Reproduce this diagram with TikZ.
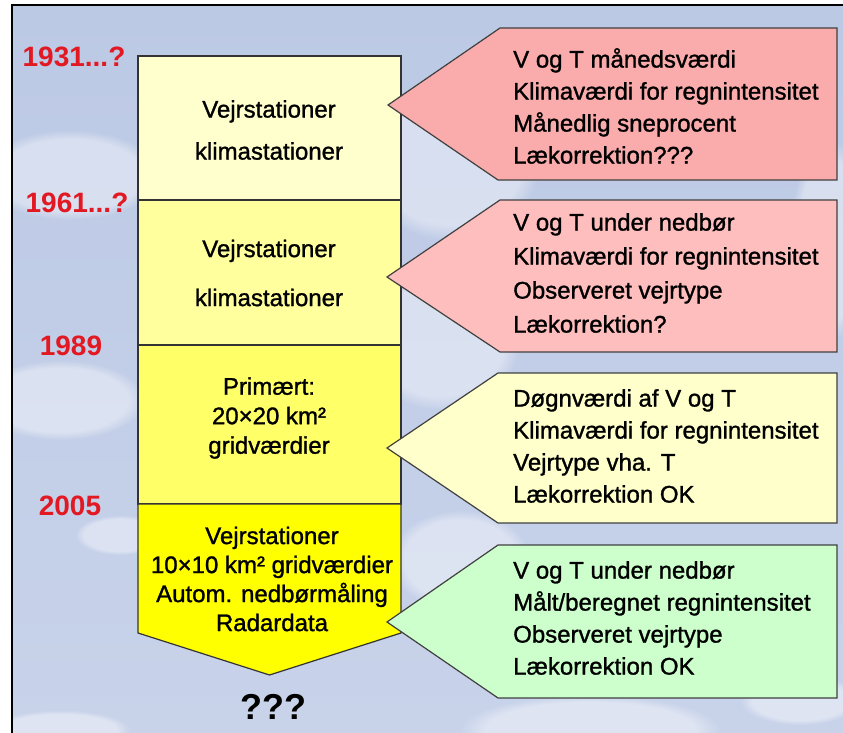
\documentclass[tikz,border=0pt]{standalone}
\usepackage{fontspec}
\setmainfont{Liberation Sans}
\newfontfamily\txtfont{Liberation Sans}[BoldFont=Liberation Sans, BoldFeatures={FakeBold=1.2}]
\usetikzlibrary{fadings}
\definecolor{sky}{RGB}{200,211,234}
\definecolor{skytop}{RGB}{188,201,229}
\definecolor{yrred}{RGB}{226,24,34}
\definecolor{boxA}{RGB}{255,255,206}
\definecolor{boxB}{RGB}{255,255,158}
\definecolor{boxC}{RGB}{255,255,104}
\definecolor{boxD}{RGB}{255,255,0}
\definecolor{calA}{RGB}{250,172,172}
\definecolor{calB}{RGB}{255,190,190}
\definecolor{calC}{RGB}{255,255,204}
\definecolor{calD}{RGB}{204,255,204}
\tikzset{
  boxst/.style={draw=black!80, line width=1.2pt},
  callst/.style={draw=black!75, line width=1.2pt},
  yearst/.style={text=yrred, font=\fontsize{28}{28}\selectfont\bfseries},
  calltxt/.style={anchor=west, align=left, inner sep=0pt, font=\txtfont\bfseries\fontsize{24}{32}\selectfont},
  cloudst/.style={fill=white, path fading=circle with fuzzy edge 20 percent, opacity=0.4}
}
\begin{document}
\begin{tikzpicture}[x=1pt, y=-1pt]
\useasboundingbox (0,0) rectangle (843,733);
\fill[white] (0,0) rectangle (843,733);
\shade[top color=skytop, bottom color=sky] (12,5) rectangle (843,733);
% clouds
\fill[cloudst] (70,175) ellipse (90 and 45);
\fill[cloudst] (60,400) ellipse (85 and 40);
\fill[cloudst] (120,535) ellipse (45 and 20);
\fill[cloudst] (450,160) ellipse (90 and 80);
\fill[cloudst] (440,340) ellipse (80 and 70);
\fill[cloudst] (460,560) ellipse (70 and 50);
\fill[cloudst] (590,730) ellipse (130 and 35);
\fill[cloudst] (800,700) ellipse (60 and 25);
\fill[cloudst] (60,730) ellipse (70 and 20);
\fill[cloudst] (830,240) ellipse (40 and 100);
% frame
\draw[black, line width=2.2pt] (12,733) -- (12,5) -- (843,5);
% timeline boxes
\coordinate (t1) at (138,56);  \coordinate (t2) at (401,56);
\coordinate (d1l) at (138,200); \coordinate (d1r) at (401,200);
\coordinate (d2l) at (138,345); \coordinate (d2r) at (401,345);
\coordinate (d3l) at (138,504); \coordinate (d3r) at (401,504);
\coordinate (s4l) at (138,633); \coordinate (s4r) at (401,633);
\coordinate (tip) at (269.5,675);
\filldraw[boxst, fill=boxA] (t1) -- (t2) -- (d1r) -- (d1l) -- cycle;
\filldraw[boxst, fill=boxB] (d1l) -- (d1r) -- (d2r) -- (d2l) -- cycle;
\filldraw[boxst, fill=boxC] (d2l) -- (d2r) -- (d3r) -- (d3l) -- cycle;
\filldraw[boxst, fill=boxD] (d3l) -- (d3r) -- (s4r) -- (tip) -- (s4l) -- cycle;
% callouts
\filldraw[callst, fill=calA] (500,28) -- (837,28) -- (837,180) -- (498,180) -- (388,105) -- cycle;
\filldraw[callst, fill=calB] (500,200) -- (837,200) -- (837,352) -- (500,352) -- (387,277) -- cycle;
\filldraw[callst, fill=calC] (498,373) -- (837,373) -- (837,523) -- (498,523) -- (387,448) -- cycle;
\filldraw[callst, fill=calD] (498,545) -- (837,545) -- (837,698) -- (498,698) -- (387,622) -- cycle;
% year labels
\node[yearst] (y1) at (74,57) {1931...?};
\node[yearst] (y2) at (77,203) {1961...?};
\node[yearst] (y3) at (71,346) {1989};
\node[yearst] (y4) at (70,506) {2005};
% box texts
\node[align=center, font=\txtfont\bfseries\fontsize{24}{42}\selectfont] (b1) at (269,130) {Vejrstationer\\klimastationer};
\node[align=center, font=\txtfont\bfseries\fontsize{24}{49}\selectfont] (b2) at (269,273) {Vejrstationer\\klimastationer};
\node[align=center, font=\txtfont\bfseries\fontsize{24}{29.5}\selectfont] (b3) at (269,418) {Primært:\\20×20 km²\\gridværdier};
\node[align=center, font=\txtfont\bfseries\fontsize{24}{29}\selectfont] (b4) at (272,579) {Vejrstationer\\10×10 km² gridværdier\\Autom. nedbørmåling\\Radardata};
\node[font=\fontsize{36}{36}\selectfont\bfseries] (q) at (273,707) {???};
% callout texts
\node[calltxt] (c1) at (513,106) {V og T månedsværdi\\Klimaværdi for regnintensitet\\Månedlig sneprocent\\Lækorrektion???};
\node[calltxt, font=\txtfont\bfseries\fontsize{24}{34}\selectfont] (c2) at (513,273) {V og T under nedbør\\Klimaværdi for regnintensitet\\Observeret vejrtype\\Lækorrektion?};
\node[calltxt] (c3) at (513,446) {Døgnværdi af V og T\\Klimaværdi for regnintensitet\\Vejrtype vha. T\\Lækorrektion OK};
\node[calltxt] (c4) at (513,618) {V og T under nedbør\\Målt/beregnet regnintensitet\\Observeret vejrtype\\Lækorrektion OK};
\end{tikzpicture}
\end{document}
